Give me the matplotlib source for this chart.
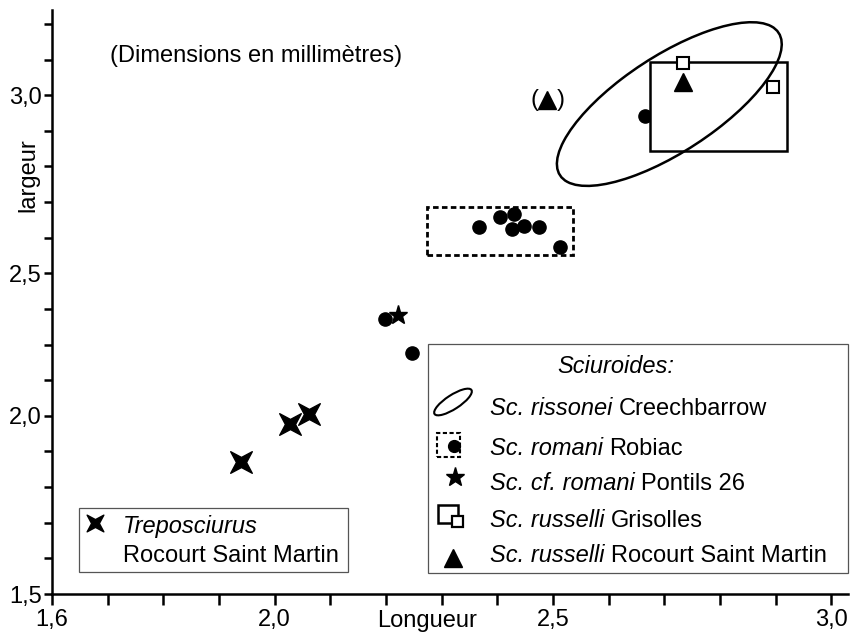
import numpy as np
import matplotlib
matplotlib.use('Agg')
import matplotlib.pyplot as plt
from matplotlib.patches import Ellipse, Rectangle
from matplotlib.path import Path
from matplotlib.markers import MarkerStyle
from matplotlib.transforms import Affine2D
from matplotlib.ticker import FixedLocator, FixedFormatter

plt.rcParams['font.family'] = ['Liberation Sans', 'DejaVu Sans']
plt.rcParams['font.size'] = 17

# --- donnees (longueur, largeur) en mm ---
trepo_x = [1.940, 2.028, 2.062]
trepo_y = [1.870, 1.977, 2.006]

romani_x = [2.367, 2.405, 2.430, 2.427, 2.448, 2.475, 2.513, 2.198, 2.247, 2.666]
romani_y = [2.630, 2.658, 2.666, 2.623, 2.634, 2.630, 2.574, 2.340, 2.220, 2.941]
romani_box = (2.274, 2.536, 2.551, 2.686)   # x0, x1, y0, y1

cf_romani_x = [2.222]
cf_romani_y = [2.354]

grisolles_x = [2.734, 2.896]
grisolles_y = [3.090, 3.023]
grisolles_box = (2.675, 2.921, 2.843, 3.093)

rocourt_x = [2.734]
rocourt_y = [3.037]
rocourt_doubt_x = [2.490]
rocourt_doubt_y = [2.986]

# ellipse Sc. rissonei: centre, largeur, hauteur, angle
rissonei_ell = (2.709, 2.975, 0.570, 0.222, 50)

xticks = [1.6, 1.7, 1.8, 1.9, 2.0, 2.1, 2.2, 2.3, 2.4, 2.5, 2.6, 2.7, 2.8, 2.9, 3.0]
xlabels = ['1,6', '', '', '', '2,0', '', '', '', '', '2,5', '', '', '', '', '3,0']
yticks = [1.5, 1.6, 1.7, 1.8, 1.9, 2.0, 2.125, 2.25, 2.375, 2.5,
          2.6, 2.7, 2.8, 2.9, 3.0, 3.1, 3.2]
ylabels = ['1,5', '', '', '', '', '2,0', '', '', '', '2,5',
           '', '', '', '', '3,0', '', '']

# axe y non regulier comme sur l'original
Y_KNOTS = [1.0, 1.5, 2.0, 2.5, 3.0, 3.5]
P_KNOTS = [-5, 0, 5, 9, 14, 19]


def fwd(v):
    return np.interp(v, Y_KNOTS, P_KNOTS)


def inv(p):
    return np.interp(p, P_KNOTS, Y_KNOTS)


# croix a branches concaves (Treposciurus)
croix = MarkerStyle(Path.unit_regular_star(4, 0.33), transform=Affine2D().rotate_deg(45))

fig = plt.figure(figsize=(8.51, 6.35), dpi=100)
ax = fig.add_axes([52 / 851, 41 / 635, 796 / 851, 584 / 635])
ax.set_yscale('function', functions=(fwd, inv))
ax.set_xlim(1.6, 3.03)
ax.set_ylim(1.5, 3.239)

for s in ['top', 'right']:
    ax.spines[s].set_visible(False)
for s in ['left', 'bottom']:
    ax.spines[s].set_linewidth(1.8)

ax.xaxis.set_major_locator(FixedLocator(xticks))
ax.xaxis.set_major_formatter(FixedFormatter(xlabels))
ax.yaxis.set_major_locator(FixedLocator(yticks))
ax.yaxis.set_major_formatter(FixedFormatter(ylabels))
ax.yaxis.set_minor_locator(FixedLocator([]))
ax.tick_params(axis='x', direction='out', length=8, width=1.8, pad=2.5, labelsize=17)
ax.tick_params(axis='y', direction='out', length=6, width=1.8, pad=1.5, labelsize=17)

ax.set_xlabel('Longueur', fontsize=17)
ax.xaxis.set_label_coords(0.471, -0.027)
ax.set_ylabel('largeur', fontsize=17, va='center')
ax.yaxis.set_label_coords(-0.030, 0.717)

# boites et ellipse
x0, x1, y0, y1 = romani_box
ax.add_patch(Rectangle((x0, y0), x1 - x0, y1 - y0, fill=False, lw=2.0,
                       ls=(0, (2.0, 1.2)), zorder=2))
ax.plot(romani_x, romani_y, 'o', color='black', ms=9.5, zorder=3)
x0, x1, y0, y1 = grisolles_box
ax.add_patch(Rectangle((x0, y0), x1 - x0, y1 - y0, fc='white', ec='black',
                       lw=1.8, zorder=4))
cx, cy, w, h, a = rissonei_ell
ax.add_patch(Ellipse((cx, cy), w, h, angle=a, fill=False, lw=1.8, zorder=5))

ax.plot(trepo_x, trepo_y, ls='none', marker=croix, color='black', ms=22, zorder=3)
ax.plot(cf_romani_x, cf_romani_y, '*', color='black', ms=14, zorder=3)
ax.plot(grisolles_x, grisolles_y, 's', mfc='white', mec='black', mew=1.5, ms=8, zorder=6)
ax.plot(rocourt_x, rocourt_y, '^', color='black', ms=13, zorder=6)
ax.plot(rocourt_doubt_x, rocourt_doubt_y, '^', color='black', ms=12.5, zorder=6)
ax.annotate('(', (rocourt_doubt_x[0], rocourt_doubt_y[0]), xytext=(-9.3, 0),
            textcoords='offset points', ha='center', va='center', fontsize=17)
ax.annotate(')', (rocourt_doubt_x[0], rocourt_doubt_y[0]), xytext=(9.3, 0),
            textcoords='offset points', ha='center', va='center', fontsize=17)

# --- textes et legendes (positions en pixels de l'image) ---
T = fig.dpi_scale_trans
renderer = fig.canvas.get_renderer()


def P(x, y):
    return x / 100, (635 - y) / 100


def mixte(x, y, ital, reste):
    # partie en italique puis partie droite sur la meme ligne
    t = ax.text(*P(x, y), ital, style='italic', transform=T, va='baseline', zorder=8)
    bb = t.get_window_extent(renderer)
    ax.text(bb.x1 / 100 + 0.066, (635 - y) / 100, reste, transform=T,
            va='baseline', zorder=8)


ax.text(*P(110, 62), '(Dimensions en millimètres)', transform=T, ha='left', va='baseline')

# legende gauche
ax.add_patch(Rectangle(P(79, 572), 2.69, 0.64, transform=T, fc='white', ec='#555555',
                       lw=0.9, zorder=7, clip_on=False))
ax.plot(*P(95, 523), ls='none', marker=croix, color='black', ms=17,
        transform=T, zorder=8, clip_on=False)
ax.text(*P(123, 533), 'Treposciurus', style='italic', transform=T, va='baseline', zorder=8)
ax.text(*P(123, 562), 'Rocourt Saint Martin', transform=T, va='baseline', zorder=8)

# legende droite
ax.add_patch(Rectangle(P(428, 573), 4.20, 2.29, transform=T, fc='white', ec='#555555',
                       lw=0.9, zorder=7, clip_on=False))
ax.text(*P(616, 373), 'Sciuroides:', style='italic', transform=T, ha='center',
        va='baseline', zorder=8)
ax.add_patch(Ellipse(P(453, 402), 0.44, 0.14, angle=33, transform=T, fill=False,
                     lw=1.5, zorder=8, clip_on=False))
ax.add_patch(Rectangle(P(437, 457), 0.23, 0.24, transform=T, fill=False, lw=1.5,
                       ls=(0, (2.0, 1.2)), zorder=8, clip_on=False))
ax.plot(*P(454, 446), 'o', color='black', ms=8.5, transform=T, zorder=9, clip_on=False)
ax.plot(*P(455, 477), '*', color='black', ms=14, transform=T, zorder=8, clip_on=False)
ax.add_patch(Rectangle(P(438, 523), 0.20, 0.18, transform=T, fill=False, lw=1.8,
                       zorder=8, clip_on=False))
ax.add_patch(Rectangle(P(452, 527), 0.11, 0.11, transform=T, fc='white', ec='black',
                       lw=1.6, zorder=9, clip_on=False))
ax.plot(*P(453, 558), '^', color='black', ms=13, transform=T, zorder=8, clip_on=False)

leg_lignes = [
    (415, 'Sc. rissonei', 'Creechbarrow'),
    (455, 'Sc. romani', 'Robiac'),
    (490, 'Sc. cf. romani', 'Pontils 26'),
    (527, 'Sc. russelli', 'Grisolles'),
    (562, 'Sc. russelli', 'Rocourt Saint Martin'),
]
for yb, ital, reste in leg_lignes:
    mixte(490, yb, ital, reste)

fig.savefig('out.png', dpi=100)
